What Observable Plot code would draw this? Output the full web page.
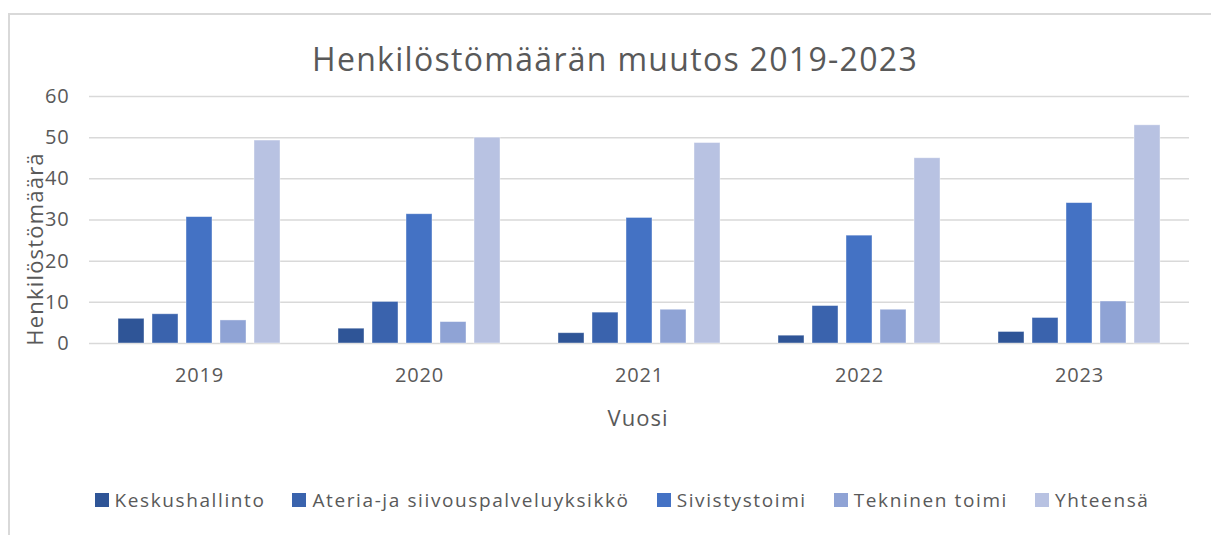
<!DOCTYPE html>
<html>
<head>
<meta charset="utf-8">
<script src="https://cdn.jsdelivr.net/npm/d3@7"></script>
<script src="https://cdn.jsdelivr.net/npm/@observablehq/plot@0.6"></script>
<style>
  html, body { margin: 0; padding: 0; background: #fff; width: 1211px; height: 535px; overflow: hidden; }
  body { position: relative; font-family: "Open Sans", sans-serif; color: #595959; }
  #frame { position: absolute; left: 8px; top: 13px; width: 1300px; height: 600px;
           border-left: 2px solid #d9d9d9; border-top: 2px solid #d9d9d9; }
  #title { position: absolute; left: 0; width: 1230px; top: 39px; text-align: center; font-size: 32px; letter-spacing: 1.3px; line-height: 40px; white-space: nowrap; }
  #chart { position: absolute; left: 0; top: 80px; }
  #ylabel { position: absolute; left: 34px; top: 249px; transform: translate(-50%, -50%) rotate(-90deg); font-size: 22px; letter-spacing: 1.2px; white-space: nowrap; line-height: 26px; }
  #xlabel { position: absolute; left: 638px; top: 417px; transform: translate(-50%, -50%); font-size: 22px; letter-spacing: 1px; white-space: nowrap; }
  #legend { position: absolute; left: 0; width: 1244px; top: 488px; display: flex; justify-content: center; gap: 27px; font-size: 19px; letter-spacing: 1.6px; line-height: 24px; }
  .item { display: flex; align-items: center; white-space: nowrap; }
  .sw { width: 14px; height: 14px; margin-right: 6px; }
</style>
</head>
<body>
<div id="frame"></div>
<div id="title"></div>
<div id="chart"></div>
<div id="ylabel"></div>
<div id="xlabel"></div>
<div id="legend"></div>
<script>
const titleText = "Henkilöstömäärän muutos 2019-2023";
const yLabel = "Henkilöstömäärä";
const xLabel = "Vuosi";
const years = ["2019", "2020", "2021", "2022", "2023"];
const series = ["Keskushallinto", "Ateria-ja siivouspalveluyksikkö", "Sivistystoimi", "Tekninen toimi", "Yhteensä"];
const keskushallinto = [6.0, 3.6, 2.5, 1.9, 2.8];
const ateria = [7.1, 10.1, 7.5, 9.1, 6.2];
const sivistystoimi = [30.7, 31.4, 30.5, 26.2, 34.1];
const tekninen = [5.6, 5.2, 8.2, 8.2, 10.2];
const yhteensa = [49.3, 50.0, 48.7, 45.0, 53.0];
const colors = ["#2f5597", "#3a63ad", "#4472c4", "#8fa3d5", "#b8c2e2"];
const yTicks = [0, 10, 20, 30, 40, 50, 60];

const seriesValues = [keskushallinto, ateria, sivistystoimi, tekninen, yhteensa];
const data = [];
years.forEach((yr, i) => {
  series.forEach((s, j) => data.push({year: yr, series: s, value: seriesValues[j][i]}));
});

document.getElementById("title").textContent = titleText;
document.getElementById("ylabel").textContent = yLabel;
document.getElementById("xlabel").textContent = xLabel;

const chart = Plot.plot({
  width: 1211,
  height: 330,
  marginLeft: 89,
  marginRight: 22,
  marginTop: 16,
  marginBottom: 67,
  style: {fontFamily: "Open Sans, sans-serif", fontSize: "20px", letterSpacing: "0.8px", color: "#595959", background: "transparent", overflow: "visible"},
  fx: {domain: years, padding: 0, label: null, axis: "bottom", tickSize: 0, tickPadding: 24},
  x: {domain: series, paddingInner: 0.244, paddingOuter: 0.817, axis: null},
  y: {domain: [0, 60], ticks: yTicks, label: null, tickSize: 0, tickPadding: 20},
  color: {domain: series, range: colors},
  marks: [
    Plot.gridY(yTicks, {stroke: "#d9d9d9", strokeOpacity: 1, strokeWidth: 1.5}),
    Plot.barY(data, {fx: "year", x: "series", y: "value", fill: "series", stroke: "#ffffff", strokeOpacity: 0.5, strokeWidth: 0.8})
  ]
});
document.getElementById("chart").appendChild(chart);

const legend = document.getElementById("legend");
series.forEach((s, j) => {
  const it = document.createElement("div");
  it.className = "item";
  const sw = document.createElement("div");
  sw.className = "sw";
  sw.style.background = colors[j];
  const tx = document.createElement("span");
  tx.textContent = s;
  it.appendChild(sw);
  it.appendChild(tx);
  legend.appendChild(it);
});
</script>
</body>
</html>
